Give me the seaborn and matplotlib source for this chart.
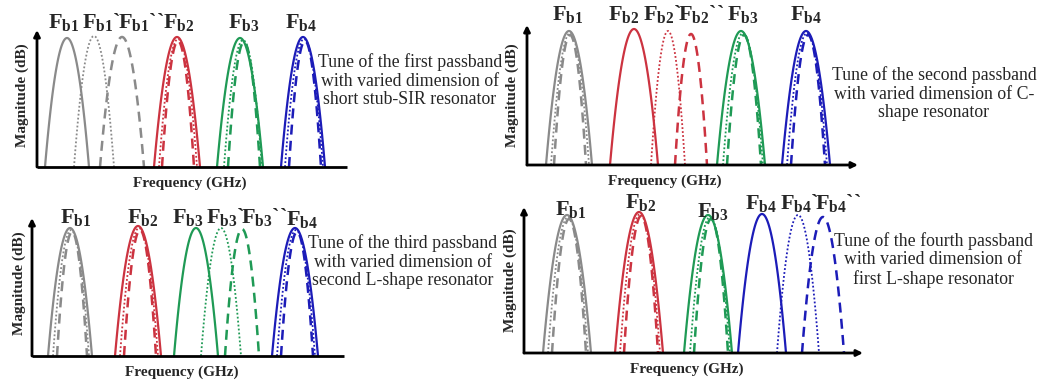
import matplotlib
matplotlib.use('Agg')
import numpy as np
import pandas as pd
import matplotlib.pyplot as plt
import seaborn as sns

# Schematic passband data.
# Units are arbitrary (roughly pixels from each panel origin).
# variant: 0 = solid, 1 = dotted, 2 = dashed ; band: 1..4

# Panel 1: tune of first passband
p1_band = [1, 1, 1, 2, 2, 2, 3, 3, 3, 4, 4, 4]
p1_variant = [0, 1, 2, 0, 1, 2, 0, 1, 2, 0, 1, 2]
p1_center = [30, 57, 85, 140, 141, 141, 203, 206, 207, 266, 267, 268]
p1_halfwidth = [22, 20, 22, 23, 19, 16, 23, 19, 16, 22, 19, 16]
p1_peak = [129, 131, 130, 130, 128, 126, 129, 127, 125, 130, 128, 126]
p1_labels = ['F$_{\\mathbf{b1}}$', 'F$_{\\mathbf{b1}}$`', 'F$_{\\mathbf{b1}}$``',
             'F$_{\\mathbf{b2}}$', 'F$_{\\mathbf{b3}}$', 'F$_{\\mathbf{b4}}$']
p1_note = 'Tune of the first passband\nwith varied dimension of\nshort stub-SIR resonator'

# Panel 2: tune of second passband
p2_band = [1, 1, 1, 2, 2, 2, 3, 3, 3, 4, 4, 4]
p2_variant = [0, 1, 2, 0, 1, 2, 0, 1, 2, 0, 1, 2]
p2_center = [42, 43, 43, 107, 141, 164, 214, 216, 217, 279, 280, 281]
p2_halfwidth = [23, 19, 16, 24, 17, 16, 24, 20, 17, 24, 20, 17]
p2_peak = [134, 132, 130, 136, 134, 131, 134, 132, 130, 134, 132, 130]
p2_labels = ['F$_{\\mathbf{b1}}$', 'F$_{\\mathbf{b2}}$', 'F$_{\\mathbf{b2}}$`',
             'F$_{\\mathbf{b2}}$``', 'F$_{\\mathbf{b3}}$', 'F$_{\\mathbf{b4}}$']
p2_note = 'Tune of the second passband\nwith varied dimension of C-\nshape resonator'

# Panel 3: tune of third passband
p3_band = [1, 1, 1, 2, 2, 2, 3, 3, 3, 4, 4, 4]
p3_variant = [0, 1, 2, 0, 1, 2, 0, 1, 2, 0, 1, 2]
p3_center = [38, 39, 40, 106, 107, 108, 164, 189, 210, 263, 264, 265]
p3_halfwidth = [22, 18, 15, 23, 19, 16, 22, 20, 17, 23, 19, 16]
p3_peak = [128, 126, 124, 130, 128, 126, 128, 128, 127, 128, 126, 124]
p3_labels = ['F$_{\\mathbf{b1}}$', 'F$_{\\mathbf{b2}}$', 'F$_{\\mathbf{b3}}$',
             'F$_{\\mathbf{b3}}$`', 'F$_{\\mathbf{b3}}$``', 'F$_{\\mathbf{b4}}$']
p3_note = 'Tune of the third passband\nwith varied dimension of\nsecond L-shape resonator'

# Panel 4: tune of fourth passband
p4_band = [1, 1, 1, 2, 2, 2, 3, 3, 3, 4, 4, 4]
p4_variant = [0, 1, 2, 0, 1, 2, 0, 1, 2, 0, 1, 2]
p4_center = [43, 44, 45, 115, 116, 117, 184, 186, 187, 238, 274, 299]
p4_halfwidth = [24, 20, 17, 24, 20, 17, 24, 20, 17, 24, 21, 21]
p4_peak = [138, 136, 134, 141, 139, 137, 138, 136, 134, 139, 138, 136]
p4_labels = ['F$_{\\mathbf{b1}}$', 'F$_{\\mathbf{b2}}$', 'F$_{\\mathbf{b3}}$',
             'F$_{\\mathbf{b4}}$', 'F$_{\\mathbf{b4}}$`', 'F$_{\\mathbf{b4}}$``']
p4_note = 'Tune of the fourth passband\nwith varied dimension of\nfirst L-shape resonator'

# ---- layout (pixels in the 1037x385 figure) ----
W, H = 1037, 385
panels = [
    dict(band=p1_band, variant=p1_variant, center=p1_center, hw=p1_halfwidth, peak=p1_peak,
         labels=p1_labels, note=p1_note,
         origin=(37, 167), size=(310, 137), xarrow=False,
         label_x=[48, 82, 118, 163, 228, 285], label_y=[28] * 6,
         ylab=(22, 95), xlab=(190, 183), note_xy=(410, 81)),
    dict(band=p2_band, variant=p2_variant, center=p2_center, hw=p2_halfwidth, peak=p2_peak,
         labels=p2_labels, note=p2_note,
         origin=(527, 165), size=(331, 140), xarrow=True,
         label_x=[552, 608, 643, 678, 727, 790], label_y=[20] * 6,
         ylab=(512, 95), xlab=(665, 181), note_xy=(934, 94)),
    dict(band=p3_band, variant=p3_variant, center=p3_center, hw=p3_halfwidth, peak=p3_peak,
         labels=p3_labels, note=p3_note,
         origin=(32, 356), size=(312, 138), xarrow=False,
         label_x=[60, 127, 172, 206, 241, 286], label_y=[223, 223, 223, 223, 223, 225],
         ylab=(19, 283), xlab=(182, 372), note_xy=(403, 262)),
    dict(band=p4_band, variant=p4_variant, center=p4_center, hw=p4_halfwidth, peak=p4_peak,
         labels=p4_labels, note=p4_note,
         origin=(524, 353), size=(339, 146), xarrow=True,
         label_x=[555, 625, 697, 745, 780, 815], label_y=[215, 208, 217, 209, 209, 209],
         ylab=(510, 280), xlab=(687, 369), note_xy=(933, 260)),
]

band_colors = {1: '#8a8a8a', 2: '#cc3340', 3: '#1f9a55', 4: '#1c1cb8'}
variant_styles = {0: ('-', 1.6), 1: ((0, (1, 1.2)), 1.3), 2: ((0, (4, 2.5)), 1.8)}

sns.set_theme(style='white')
plt.rcParams['font.family'] = ['Liberation Serif', 'DejaVu Serif']
plt.rcParams['mathtext.fontset'] = 'custom'
plt.rcParams['mathtext.rm'] = 'Liberation Serif:bold'
plt.rcParams['mathtext.bf'] = 'Liberation Serif:bold'
plt.rcParams['mathtext.it'] = 'Liberation Serif:bold'

fig = plt.figure(figsize=(W / 100, H / 100), dpi=100)
fig.patch.set_facecolor('white')


def fpos(x, y):
    return x / W, 1 - y / H


for p in panels:
    ox, oy = p['origin']
    pw, ph = p['size']
    ax = fig.add_axes([ox / W, 1 - oy / H, pw / W, ph / H])
    ax.set_xlim(0, pw)
    ax.set_ylim(0, ph)
    ax.axis('off')

    # passband curves (schematic parabolic humps)
    for b, v, c, w, h in zip(p['band'], p['variant'], p['center'], p['hw'], p['peak']):
        xs = np.linspace(c - w, c + w, 121)
        ys = h * (1 - ((xs - c) / w) ** 2)
        df = pd.DataFrame({'freq': xs, 'mag': ys})
        ls, lw = variant_styles[v]
        sns.lineplot(data=df, x='freq', y='mag', ax=ax, color=band_colors[b],
                     linestyle=ls, linewidth=lw, sort=False, estimator=None, legend=False)
    ax.set_xlabel('')
    ax.set_ylabel('')

    # axes with arrows
    ax.annotate('', xy=(0, ph), xytext=(0, 0), annotation_clip=False,
                arrowprops=dict(arrowstyle='-|>', lw=2, color='black', mutation_scale=9,
                                shrinkA=0, shrinkB=0))
    if p['xarrow']:
        ax.annotate('', xy=(pw, 0), xytext=(0, 0), annotation_clip=False,
                    arrowprops=dict(arrowstyle='-|>', lw=2, color='black', mutation_scale=9,
                                    shrinkA=0, shrinkB=0))
    else:
        ax.plot([0, pw], [0, 0], color='black', lw=2, clip_on=False, solid_capstyle='butt')

    # band labels
    for lab, lx, ly in zip(p['labels'], p['label_x'], p['label_y']):
        fig.text(*fpos(lx, ly), lab, fontsize=16, fontweight='bold', ha='left', va='baseline')

    # axis titles
    fig.text(*fpos(*p['ylab']), 'Magnitude (dB)', rotation=90, fontsize=11,
             fontweight='bold', ha='center', va='center')
    fig.text(*fpos(*p['xlab']), 'Frequency (GHz)', fontsize=11,
             fontweight='bold', ha='center', va='center')

    # description
    fig.text(*fpos(*p['note_xy']), p['note'], fontsize=12.8, ha='center', va='center',
             multialignment='center', linespacing=1.12)

fig.savefig('out.png', dpi=100, facecolor='white')
